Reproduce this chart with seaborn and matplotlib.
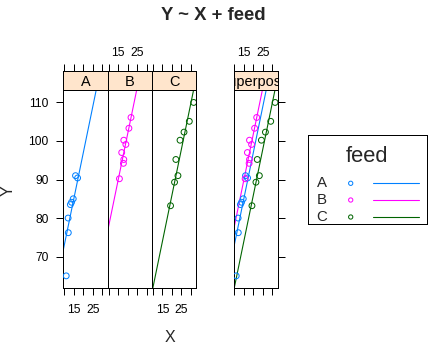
import numpy as np
import pandas as pd
import matplotlib
matplotlib.use("Agg")
import matplotlib.pyplot as plt
import seaborn as sns

# ---------------- data ----------------
feeds = ["A", "B", "C"]
x_A = [11.0, 12.1, 12.0, 13.2, 13.8, 14.7, 15.9, 17.0]
y_A = [65.0, 76.2, 80.0, 83.5, 84.1, 85.0, 91.0, 90.4]
x_B = [15.7, 17.8, 18.0, 16.9, 18.0, 19.1, 20.7, 21.8]
y_B = [90.2, 94.2, 95.2, 97.0, 100.2, 99.1, 103.3, 106.1]
x_C = [19.3, 21.4, 23.2, 22.1, 24.3, 26.4, 29.2, 31.5]
y_C = [83.2, 89.3, 91.0, 95.2, 100.2, 102.3, 105.1, 110.0]
colors = ["#0080ff", "#ff00ff", "#006400"]
strip_labels = ["A", "B", "C", "superpose"]
x_ticks = [10, 15, 20, 25, 30]
x_tick_labels = ["", "15", "", "25", ""]
y_ticks = [70, 80, 90, 100, 110]
y_tick_labels = ["70", "80", "90", "100", "110"]

df = pd.DataFrame({
    "X": x_A + x_B + x_C,
    "Y": y_A + y_B + y_C,
    "feed": ["A"] * len(x_A) + ["B"] * len(x_B) + ["C"] * len(x_C),
})

# ANCOVA fit: Y ~ X + feed (common slope, separate intercepts)
design = np.column_stack([df["X"].values] + [(df["feed"] == f).astype(float).values for f in feeds])
coef, *_ = np.linalg.lstsq(design, df["Y"].values, rcond=None)
slope = coef[0]
intercepts = dict(zip(feeds, coef[1:]))

# lattice-like 7% padding
xr = df["X"].max() - df["X"].min()
yr = df["Y"].max() - df["Y"].min()
xlim = (df["X"].min() - 0.07 * xr, df["X"].max() + 0.07 * xr)
ylim = (df["Y"].min() - 0.07 * yr, df["Y"].max() + 0.07 * yr)

# ---------------- figure ----------------
sns.set_style("white")
plt.rcParams["font.family"] = ["Liberation Sans", "DejaVu Sans"]
W, H = 432, 346
DPI = 72
fig = plt.figure(figsize=(W / DPI, H / DPI), dpi=DPI)
fig.patch.set_facecolor("white")


def px_axes(x0, y0, x1, y1):
    return fig.add_axes([x0 / W, 1 - y1 / H, (x1 - x0) / W, (y1 - y0) / H])


STRIP_BG = "#ffe5cc"
panel_top, panel_bot, strip_top = 90.3, 288.0, 71.0
pw = 44.3
lefts = [63.5, 63.5 + pw, 63.5 + 2 * pw, 233.5]
tick_kw = dict(direction="out", length=7, width=1, colors="black", labelsize=12)

for i, lab in enumerate(strip_labels):
    x0 = lefts[i]
    ax = px_axes(x0, panel_top, x0 + pw, panel_bot)
    st = px_axes(x0, strip_top, x0 + pw, panel_top)

    if lab == "superpose":
        groups = feeds
    else:
        groups = [lab]
    for f in groups:
        c = colors[feeds.index(f)]
        sub = df[df["feed"] == f]
        sns.scatterplot(data=sub, x="X", y="Y", ax=ax, color=c, marker="o",
                        s=34, facecolor="none", edgecolor=c, linewidth=1.0,
                        legend=False, zorder=3)
        ax.axline((0, intercepts[f]), slope=slope, color=c, lw=1.1, zorder=2)

    ax.set_xlim(xlim)
    ax.set_ylim(ylim)
    ax.set_xlabel("")
    ax.set_ylabel("")
    ax.set_facecolor("white")
    for sp in ax.spines.values():
        sp.set_color("black")
        sp.set_linewidth(1)
        sp.set_visible(True)

    ax.set_xticks(x_ticks)
    ax.set_xticklabels(x_tick_labels)
    ax.set_yticks(y_ticks)
    ax.set_yticklabels(y_tick_labels)
    ax.tick_params(axis="x", bottom=True, top=False, labeltop=False,
                   labelbottom=(lab in ["A", "C"]), pad=9, **tick_kw)
    if lab == "A":
        ax.tick_params(axis="y", left=True, right=False, labelleft=True,
                       labelright=False, pad=8, **tick_kw)
    elif lab == "superpose":
        ax.tick_params(axis="y", left=False, right=True, labelleft=False,
                       labelright=False, **tick_kw)
    else:
        ax.tick_params(axis="y", left=False, right=False, labelleft=False,
                       labelright=False)

    # strip
    st.set_facecolor(STRIP_BG)
    st.set_xlim(xlim)
    st.set_ylim(0, 1)
    st.set_yticks([])
    st.set_xticks(x_ticks)
    st.set_xticklabels(x_tick_labels)
    st.tick_params(axis="x", bottom=False, top=True, labelbottom=False,
                   labeltop=(lab in ["B", "superpose"]), pad=5, **tick_kw)
    for sp in st.spines.values():
        sp.set_color("black")
        sp.set_linewidth(1)
        sp.set_visible(True)
    st.text(0.5, 0.45, lab, transform=st.transAxes, ha="center", va="center",
            fontsize=14.5, color="black", clip_on=True)

# titles / axis labels
fig.text(213 / W, 1 - 16 / H, "Y ~ X + feed", ha="center", va="center",
         fontsize=18.5, fontweight="bold")
fig.text(170 / W, 1 - 337 / H, "X", ha="center", va="center", fontsize=16)
fig.text(8 / W, 1 - 191 / H, "Y", ha="center", va="center", fontsize=16, rotation=90)

# legend (lattice key style)
lg = px_axes(308.3, 135, 427.3, 224)
lg.set_xlim(0, 119)
lg.set_ylim(89, 0)
lg.set_xticks([])
lg.set_yticks([])
for sp in lg.spines.values():
    sp.set_color("black")
    sp.set_linewidth(1)
    sp.set_visible(True)
lg.text(58.4, 21, "feed", ha="center", va="center", fontsize=22)
key_y = [48.3, 65.0, 82.0]
for f, c, yy in zip(feeds, colors, key_y):
    lg.text(13.7, yy, f, ha="center", va="center", fontsize=15)
    lg.scatter([42.4], [yy], s=18, facecolor="none", edgecolor=c, linewidth=1.0)
    lg.plot([64.4, 110.4], [yy, yy], color=c, lw=1.1)

fig.savefig("out.png", dpi=DPI, facecolor="white")
